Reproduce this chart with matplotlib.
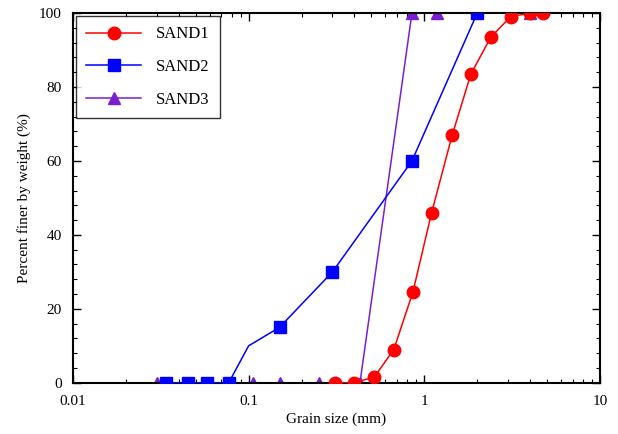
import matplotlib
matplotlib.use("Agg")
import matplotlib.pyplot as plt
from matplotlib.ticker import FixedLocator, LogLocator, MultipleLocator, NullFormatter

plt.rcParams['font.family'] = ['Liberation Serif', 'DejaVu Serif']

# grain size (mm) and percent finer
sand1_d = [0.31, 0.40, 0.52, 0.67, 0.86, 1.10, 1.44, 1.84, 2.39, 3.10, 4.0, 4.75]
sand1_p = [0, 0, 1.6, 9, 24.5, 46, 67, 83.5, 93.5, 99, 100, 100]

sand2_d = [0.034, 0.045, 0.058, 0.077, 0.10, 0.15, 0.30, 0.85, 2.0]
sand2_p = [0, 0, 0, 0, 10, 15, 30, 60, 100]
sand2_marked = [0, 1, 2, 3, 5, 6, 7, 8]

sand3_d = [0.030, 0.034, 0.045, 0.058, 0.077, 0.106, 0.15, 0.25, 0.43, 0.85, 1.18, 4.0]
sand3_p = [0, 0, 0, 0, 0, 0, 0, 0, 0, 100, 100, 100]

fig = plt.figure(figsize=(6.18, 4.34), dpi=100)
ax = fig.add_axes([0.118, 0.118, 0.853, 0.852])

ax.plot(sand3_d, sand3_p, '-^', color='#7a1fd0', lw=1.1, ms=8, label='SAND3', zorder=2)
ax.plot(sand2_d, sand2_p, '-s', color='#0000ff', lw=1.1, ms=8, markevery=sand2_marked,
        label='SAND2', zorder=3)
ax.plot(sand1_d, sand1_p, '-o', color='#ff0000', lw=1.1, ms=9, label='SAND1', zorder=4)

ax.set_xscale('log')
ax.set_xlim(0.01, 10)
ax.set_ylim(0, 100)
ax.xaxis.set_major_locator(FixedLocator([0.01, 0.1, 1, 10]))
ax.set_xticklabels(['0.01', '0.1', '1', '10'])
ax.xaxis.set_minor_locator(LogLocator(base=10, subs=range(2, 10)))
ax.xaxis.set_minor_formatter(NullFormatter())
ax.yaxis.set_major_locator(MultipleLocator(20))
ax.yaxis.set_minor_locator(MultipleLocator(4))

ax.tick_params(which='both', direction='in', top=True, right=True, labelsize=11)
ax.tick_params(which='major', length=6, width=1)
ax.tick_params(which='minor', length=3, width=0.8)
ax.tick_params(axis='x', which='major', pad=9)
ax.tick_params(axis='y', which='major', pad=8)
for s in ax.spines.values():
    s.set_linewidth(1.5)

ax.set_xlabel('Grain size (mm)', fontsize=11, labelpad=3)
ax.set_ylabel('Percent finer by weight (%)', fontsize=11, labelpad=6)

h, l = ax.get_legend_handles_labels()
leg = ax.legend(h[::-1], l[::-1], loc='upper left', fontsize=12, handlelength=3.3,
                frameon=True, fancybox=False, edgecolor='black', borderaxespad=0.2,
                labelspacing=1.0, borderpad=0.6, handletextpad=0.9)
leg.get_frame().set_linewidth(1.0)

fig.savefig('out.png', dpi=100)
